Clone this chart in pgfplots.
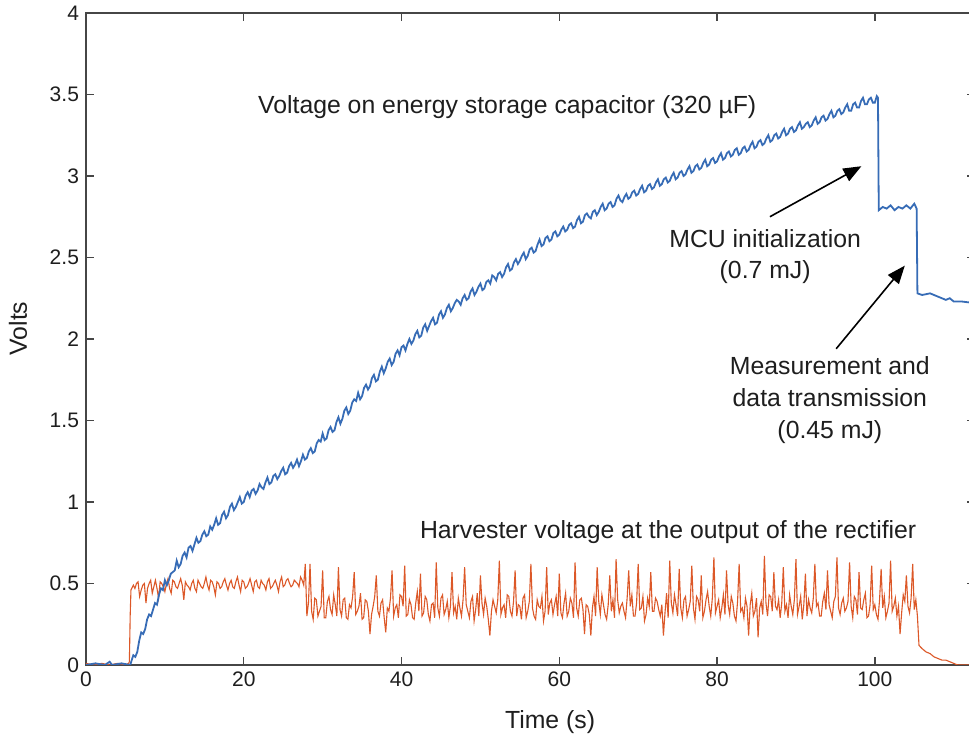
\documentclass[border=0pt]{standalone}
\usepackage{pgfplots}
\pgfplotsset{compat=1.18}
\usepackage{fontspec}
\setmainfont{Liberation Sans}
\usetikzlibrary{arrows.meta}
\definecolor{capblue}{RGB}{55,108,182}
\definecolor{harvorange}{RGB}{220,88,40}
\definecolor{axgray}{RGB}{70,70,70}
\definecolor{txt}{RGB}{30,30,30}

\begin{document}
\begin{tikzpicture}
% page = 969x742 px at 0.5pt per px, axis box SW corner at origin
\useasboundingbox (-43pt,-38.5pt) rectangle (441.5pt,332.5pt);
\begin{axis}[
  at={(0,0)}, anchor=south west,
  scale only axis, width=444.5pt, height=326pt,
  xmin=0, xmax=112.7, ymin=0, ymax=4,
  xtick={0,20,40,60,80,100},
  ytick={0,0.5,1,1.5,2,2.5,3,3.5,4},
  yticklabels={0,0.5,1,1.5,2,2.5,3,3.5,4},
  tick align=inside, major tick length=4pt,
  axis line style={axgray, line width=0.7pt},
  every tick/.style={axgray, line width=0.7pt},
  /pgf/number format/assume math mode=true,
  tick label style={font=\fontsize{10.5}{12}\selectfont, text=txt},
  label style={font=\fontsize{12.4}{14}\selectfont, text=txt},
  xlabel={Time (s)},
  xlabel style={at={(axis description cs:0.522,-0.0874)}, anchor=center},
  ylabel={Volts},
  ylabel style={at={(axis description cs:-0.0765,0.516)}, anchor=center},
  clip=true,
]
% harvester voltage
\addplot[harvorange, line width=0.55pt] coordinates {
(0,0.01) (1,0.00) (2,0.01) (3,0.00) (4,0.01) (5,0.00) (5.4,0.01) (5.5,0.02) (5.6,0.30) (5.7,0.46)
(6.0,0.49) (6.2,0.47) (6.4,0.50) (6.6,0.51) (6.8,0.42) (7.0,0.46) (7.2,0.49) (7.4,0.50) (7.6,0.38) (7.8,0.47)
(8.0,0.50) (8.2,0.52) (8.4,0.44) (8.6,0.48) (8.8,0.52) (9.0,0.47) (9.2,0.41) (9.4,0.51) (9.6,0.50) (9.8,0.48)
(10.0,0.45) (10.2,0.50) (10.4,0.53) (10.6,0.47) (10.8,0.44) (11.0,0.52) (11.2,0.51) (11.4,0.48) (11.6,0.47) (11.8,0.50)
(12.0,0.53) (12.2,0.49) (12.4,0.40) (12.6,0.51) (12.8,0.49) (13.0,0.48) (13.2,0.46) (13.4,0.50) (13.6,0.52) (13.8,0.47)
(14.0,0.45) (14.2,0.52) (14.4,0.50) (14.6,0.48) (14.8,0.47) (15.0,0.50) (15.2,0.54) (15.4,0.49) (15.6,0.46) (15.8,0.52)
(16.0,0.51) (16.2,0.48) (16.4,0.43) (16.6,0.51) (16.8,0.50) (17.0,0.47) (17.2,0.48) (17.4,0.51) (17.6,0.53) (17.8,0.49)
(18.0,0.46) (18.2,0.50) (18.4,0.52) (18.6,0.48) (18.8,0.47) (19.0,0.51) (19.2,0.54) (19.4,0.49) (19.6,0.45) (19.8,0.52)
(20.0,0.51) (20.2,0.47) (20.4,0.48) (20.6,0.50) (20.8,0.53) (21.0,0.49) (21.2,0.45) (21.4,0.51) (21.6,0.52) (21.8,0.48)
(22.0,0.47) (22.2,0.52) (22.4,0.50) (22.6,0.49) (22.8,0.46) (23.0,0.51) (23.2,0.53) (23.4,0.47) (23.6,0.48) (23.8,0.50)
(24.0,0.52) (24.2,0.49) (24.4,0.45) (24.6,0.51) (24.8,0.54) (25.0,0.48) (25.2,0.49) (25.4,0.52) (25.6,0.53) (25.8,0.50)
(26.0,0.48) (26.2,0.49) (26.4,0.52) (26.6,0.51) (26.8,0.50) (27.0,0.48) (27.2,0.54) (27.4,0.52) (27.6,0.49) (27.8,0.62)
(28.0,0.30) (28.2,0.38) (28.4,0.62) (28.6,0.33) (28.8,0.28) (29.0,0.41) (29.2,0.40) (29.4,0.30) (29.6,0.33) (29.8,0.36)
(30.0,0.58) (30.2,0.29) (30.4,0.29) (30.6,0.39) (30.8,0.42) (31.0,0.34) (31.2,0.31) (31.4,0.43) (31.6,0.37) (31.8,0.30)
(32.0,0.60) (32.2,0.34) (32.4,0.30) (32.6,0.40) (32.8,0.41) (33.0,0.29) (33.2,0.28) (33.4,0.37) (33.6,0.35) (33.8,0.42)
(34.0,0.57) (34.2,0.31) (34.4,0.33) (34.6,0.36) (34.8,0.44) (35.0,0.28) (35.2,0.29) (35.4,0.40) (35.6,0.39) (35.8,0.33)
(36.0,0.19) (36.2,0.31) (36.4,0.36) (36.6,0.42) (36.8,0.55) (37.0,0.33) (37.2,0.30) (37.4,0.38) (37.6,0.40) (37.8,0.29)
(38.0,0.20) (38.2,0.35) (38.4,0.33) (38.6,0.41) (38.8,0.58) (39.0,0.30) (39.2,0.35) (39.4,0.37) (39.6,0.29) (39.8,0.43)
(40.0,0.42) (40.2,0.36) (40.4,0.61) (40.6,0.30) (40.8,0.31) (41.0,0.40) (41.2,0.37) (41.4,0.29) (41.6,0.28) (41.8,0.38)
(42.0,0.45) (42.2,0.33) (42.4,0.56) (42.6,0.30) (42.8,0.32) (43.0,0.42) (43.2,0.40) (43.4,0.31) (43.6,0.27) (43.8,0.37)
(44.0,0.38) (44.2,0.29) (44.4,0.63) (44.6,0.35) (44.8,0.30) (45.0,0.41) (45.2,0.43) (45.4,0.31) (45.6,0.34) (45.8,0.39)
(46.0,0.29) (46.2,0.36) (46.4,0.57) (46.6,0.32) (46.8,0.36) (47.0,0.28) (47.2,0.41) (47.4,0.35) (47.6,0.30) (47.8,0.40)
(48.0,0.60) (48.2,0.37) (48.4,0.33) (48.6,0.29) (48.8,0.39) (49.0,0.42) (49.2,0.27) (49.4,0.34) (49.6,0.44) (49.8,0.30)
(50.0,0.55) (50.2,0.38) (50.4,0.31) (50.6,0.41) (50.8,0.36) (51.0,0.28) (51.2,0.18) (51.4,0.33) (51.6,0.40) (51.8,0.36)
(52.0,0.32) (52.2,0.40) (52.4,0.64) (52.6,0.31) (52.8,0.35) (53.0,0.37) (53.2,0.29) (53.4,0.43) (53.6,0.42) (53.8,0.33)
(54.0,0.30) (54.2,0.39) (54.4,0.58) (54.6,0.30) (54.8,0.37) (55.0,0.36) (55.2,0.28) (55.4,0.41) (55.6,0.43) (55.8,0.29)
(56.0,0.33) (56.2,0.39) (56.4,0.62) (56.6,0.35) (56.8,0.30) (57.0,0.28) (57.2,0.40) (57.4,0.36) (57.6,0.35) (57.8,0.42)
(58.0,0.27) (58.2,0.33) (58.4,0.60) (58.6,0.31) (58.8,0.38) (59.0,0.40) (59.2,0.31) (59.4,0.37) (59.6,0.42) (59.8,0.30)
(60.0,0.56) (60.2,0.32) (60.4,0.29) (60.6,0.38) (60.8,0.44) (61.0,0.30) (61.2,0.33) (61.4,0.41) (61.6,0.38) (61.8,0.29)
(62.0,0.63) (62.2,0.35) (62.4,0.30) (62.6,0.40) (62.8,0.41) (63.0,0.34) (63.2,0.19) (63.4,0.37) (63.6,0.36) (63.8,0.31)
(64.0,0.18) (64.2,0.35) (64.4,0.42) (64.6,0.30) (64.8,0.60) (65.0,0.39) (65.2,0.31) (65.4,0.43) (65.6,0.37) (65.8,0.31)
(66.0,0.28) (66.2,0.37) (66.4,0.55) (66.6,0.33) (66.8,0.40) (67.0,0.29) (67.2,0.65) (67.4,0.40) (67.6,0.32) (67.8,0.36)
(68.0,0.38) (68.2,0.33) (68.4,0.29) (68.6,0.41) (68.8,0.58) (69.0,0.36) (69.2,0.43) (69.4,0.30) (69.6,0.30) (69.8,0.38)
(70.0,0.62) (70.2,0.34) (70.4,0.35) (70.6,0.42) (70.8,0.27) (71.0,0.31) (71.2,0.41) (71.4,0.36) (71.6,0.57) (71.8,0.33)
(72.0,0.33) (72.2,0.41) (72.4,0.39) (72.6,0.34) (72.8,0.30) (73.0,0.37) (73.2,0.18) (73.4,0.32) (73.6,0.44) (73.8,0.29)
(74.0,0.64) (74.2,0.38) (74.4,0.32) (74.6,0.43) (74.8,0.37) (75.0,0.30) (75.2,0.59) (75.4,0.35) (75.6,0.29) (75.8,0.40)
(76.0,0.42) (76.2,0.30) (76.4,0.34) (76.6,0.39) (76.8,0.61) (77.0,0.35) (77.2,0.28) (77.4,0.42) (77.6,0.40) (77.8,0.33)
(78.0,0.55) (78.2,0.29) (78.4,0.33) (78.6,0.40) (78.8,0.45) (79.0,0.36) (79.2,0.30) (79.4,0.41) (79.6,0.66) (79.8,0.32)
(80.0,0.36) (80.2,0.40) (80.4,0.29) (80.6,0.35) (80.8,0.43) (81.0,0.31) (81.2,0.58) (81.4,0.37) (81.6,0.31) (81.8,0.42)
(82.0,0.38) (82.2,0.30) (82.4,0.27) (82.6,0.39) (82.8,0.62) (83.0,0.33) (83.2,0.35) (83.4,0.29) (83.6,0.41) (83.8,0.36)
(84.0,0.18) (84.2,0.37) (84.4,0.44) (84.6,0.30) (84.8,0.33) (85.0,0.41) (85.2,0.17) (85.4,0.35) (85.6,0.39) (85.8,0.31)
(86.0,0.67) (86.2,0.38) (86.4,0.30) (86.6,0.43) (86.8,0.42) (87.0,0.33) (87.2,0.57) (87.4,0.36) (87.6,0.34) (87.8,0.40)
(88.0,0.29) (88.2,0.38) (88.4,0.60) (88.6,0.33) (88.8,0.37) (89.0,0.29) (89.2,0.43) (89.4,0.36) (89.6,0.31) (89.8,0.40)
(90.0,0.65) (90.2,0.31) (90.4,0.36) (90.6,0.42) (90.8,0.28) (91.0,0.37) (91.2,0.56) (91.4,0.30) (91.6,0.40) (91.8,0.35)
(92.0,0.32) (92.2,0.41) (92.4,0.62) (92.6,0.36) (92.8,0.38) (93.0,0.30) (93.2,0.30) (93.4,0.39) (93.6,0.44) (93.8,0.34)
(94.0,0.58) (94.2,0.37) (94.4,0.33) (94.6,0.29) (94.8,0.39) (95.0,0.42) (95.2,0.66) (95.4,0.35) (95.6,0.31) (95.8,0.38)
(96.0,0.41) (96.2,0.33) (96.4,0.35) (96.6,0.39) (96.8,0.63) (97.0,0.36) (97.2,0.29) (97.4,0.42) (97.6,0.40) (97.8,0.31)
(98.0,0.57) (98.2,0.35) (98.4,0.34) (98.6,0.40) (98.8,0.44) (99.0,0.29) (99.2,0.30) (99.4,0.37) (99.6,0.61) (99.8,0.34)
(100.0,0.37) (100.2,0.31) (100.4,0.28) (100.6,0.40) (100.8,0.59) (101.0,0.35) (101.2,0.42) (101.4,0.29) (101.6,0.33) (101.8,0.38)
(102.0,0.64) (102.2,0.33) (102.4,0.36) (102.6,0.41) (102.8,0.30) (103.0,0.36) (103.2,0.19) (103.4,0.32) (103.6,0.43) (103.8,0.39)
(104.0,0.55) (104.2,0.36) (104.4,0.32) (104.6,0.41) (104.8,0.62) (105.0,0.34) (105.2,0.40) (105.4,0.30) (105.6,0.12)
(106.0,0.10) (106.5,0.08) (107.0,0.07) (107.5,0.05) (108.0,0.04) (108.5,0.03) (109.0,0.03) (109.5,0.02) (110.0,0.01) (110.5,0.00) (112.7,0.00)
};
% storage capacitor voltage
\addplot[capblue, line width=0.9pt] coordinates {
(0,0.00) (1.2,0.01) (2.4,0.00) (3.0,0.02) (3.3,0.00) (4.5,0.01) (5.6,0.00)
(6.0,0.06) (6.25,0.05) (6.5,0.08) (6.75,0.15) (7.0,0.20) (7.25,0.19) (7.5,0.22) (7.75,0.28) (8.0,0.31) (8.25,0.30)
(8.5,0.34) (8.75,0.38) (9.0,0.37) (9.25,0.43) (9.5,0.47) (9.75,0.46) (10.0,0.52) (10.25,0.49) (10.5,0.52) (10.75,0.56)
(11.0,0.57) (11.25,0.58) (11.5,0.64) (11.75,0.60) (12.0,0.62) (12.25,0.67) (12.5,0.69) (12.75,0.66) (13.0,0.72) (13.25,0.73)
(13.5,0.70) (13.75,0.74) (14.0,0.78) (14.25,0.75) (14.5,0.76) (14.75,0.80) (15.0,0.82) (15.25,0.79) (15.5,0.80) (15.75,0.85)
(16.0,0.83) (16.25,0.86) (16.5,0.90) (16.75,0.86) (17.0,0.87) (17.25,0.92) (17.5,0.94) (17.75,0.90) (18.0,0.92) (18.25,0.97)
(18.5,0.99) (18.75,0.95) (19.0,0.97) (19.25,1.00) (19.5,1.03) (19.75,0.99) (20.0,1.00) (20.25,1.04) (20.5,1.06) (20.75,1.03)
(21.0,1.07) (21.25,1.08) (21.5,1.05) (21.75,1.07) (22.0,1.11) (22.25,1.09) (22.5,1.08) (22.75,1.12) (23.0,1.15) (23.25,1.11)
(23.5,1.12) (23.75,1.16) (24.0,1.17) (24.25,1.14) (24.5,1.16) (24.75,1.19) (25.0,1.21) (25.25,1.17) (25.5,1.18) (25.75,1.22)
(26.0,1.24) (26.25,1.21) (26.5,1.23) (26.75,1.26) (27.0,1.22) (27.25,1.25) (27.5,1.29) (27.75,1.26) (28.0,1.27) (28.25,1.31)
(28.5,1.33) (28.75,1.30) (29.0,1.31) (29.25,1.36) (29.5,1.38) (29.75,1.37) (30.0,1.42) (30.25,1.38) (30.5,1.39) (30.75,1.44)
(31.0,1.46) (31.25,1.43) (31.5,1.44) (31.75,1.49) (32.0,1.52) (32.25,1.48) (32.5,1.51) (32.75,1.56) (33.0,1.58) (33.25,1.54)
(33.5,1.56) (33.75,1.61) (34.0,1.63) (34.25,1.62) (34.5,1.67) (34.75,1.63) (35.0,1.65) (35.25,1.70) (35.5,1.72) (35.75,1.69)
(36.0,1.71) (36.25,1.76) (36.5,1.78) (36.75,1.74) (37.0,1.75) (37.25,1.80) (37.5,1.83) (37.75,1.79) (38.0,1.82) (38.25,1.86)
(38.5,1.88) (38.75,1.84) (39.0,1.86) (39.25,1.91) (39.5,1.93) (39.75,1.90) (40.0,1.95) (40.25,1.96) (40.5,1.93) (40.75,1.97)
(41.0,2.00) (41.25,1.97) (41.5,1.99) (41.75,2.03) (42.0,2.05) (42.25,2.01) (42.5,2.02) (42.75,2.07) (43.0,2.09) (43.25,2.05)
(43.5,2.08) (43.75,2.11) (44.0,2.13) (44.25,2.09) (44.5,2.10) (44.75,2.15) (45.0,2.17) (45.25,2.13) (45.5,2.15) (45.75,2.19)
(46.0,2.21) (46.25,2.17) (46.5,2.19) (46.75,2.22) (47.0,2.24) (47.25,2.23) (47.5,2.21) (47.75,2.25) (48.0,2.27) (48.25,2.24)
(48.5,2.25) (48.75,2.29) (49.0,2.31) (49.25,2.27) (49.5,2.29) (49.75,2.32) (50.0,2.34) (50.25,2.30) (50.5,2.31) (50.75,2.35)
(51.0,2.36) (51.25,2.34) (51.5,2.39) (51.75,2.38) (52.0,2.36) (52.25,2.40) (52.5,2.41) (52.75,2.38) (53.0,2.40) (53.25,2.44)
(53.5,2.46) (53.75,2.42) (54.0,2.43) (54.25,2.47) (54.5,2.49) (54.75,2.46) (55.0,2.48) (55.25,2.51) (55.5,2.53) (55.75,2.49)
(56.0,2.51) (56.25,2.55) (56.5,2.56) (56.75,2.53) (57.0,2.54) (57.25,2.58) (57.5,2.61) (57.75,2.57) (58.0,2.58) (58.25,2.62)
(58.5,2.63) (58.75,2.60) (59.0,2.61) (59.25,2.65) (59.5,2.66) (59.75,2.63) (60.0,2.64) (60.25,2.67) (60.5,2.69) (60.75,2.66)
(61.0,2.67) (61.25,2.70) (61.5,2.71) (61.75,2.68) (62.0,2.69) (62.25,2.73) (62.5,2.75) (62.75,2.71) (63.0,2.72) (63.25,2.76)
(63.5,2.77) (63.75,2.75) (64.0,2.74) (64.25,2.78) (64.5,2.79) (64.75,2.76) (65.0,2.78) (65.25,2.81) (65.5,2.83) (65.75,2.79)
(66.0,2.80) (66.25,2.83) (66.5,2.84) (66.75,2.81) (67.0,2.82) (67.25,2.86) (67.5,2.88) (67.75,2.85) (68.0,2.84) (68.25,2.87)
(68.5,2.89) (68.75,2.86) (69.0,2.87) (69.25,2.90) (69.5,2.91) (69.75,2.88) (70.0,2.89) (70.25,2.92) (70.5,2.94) (70.75,2.90)
(71.0,2.91) (71.25,2.94) (71.5,2.95) (71.75,2.92) (72.0,2.93) (72.25,2.96) (72.5,2.98) (72.75,2.94) (73.0,2.95) (73.25,2.98)
(73.5,2.99) (73.75,2.96) (74.0,2.97) (74.25,3.00) (74.5,3.02) (74.75,2.98) (75.0,2.99) (75.25,3.02) (75.5,3.03) (75.75,3.00)
(76.0,3.01) (76.25,3.04) (76.5,3.06) (76.75,3.02) (77.0,3.03) (77.25,3.06) (77.5,3.07) (77.75,3.04) (78.0,3.05) (78.25,3.08)
(78.5,3.10) (78.75,3.06) (79.0,3.07) (79.25,3.10) (79.5,3.11) (79.75,3.08) (80.0,3.09) (80.25,3.12) (80.5,3.14) (80.75,3.10)
(81.0,3.11) (81.25,3.14) (81.5,3.15) (81.75,3.12) (82.0,3.13) (82.25,3.16) (82.5,3.17) (82.75,3.13) (83.0,3.14) (83.25,3.17)
(83.5,3.18) (83.75,3.15) (84.0,3.16) (84.25,3.19) (84.5,3.21) (84.75,3.17) (85.0,3.18) (85.25,3.21) (85.5,3.22) (85.75,3.19)
(86.0,3.20) (86.25,3.23) (86.5,3.25) (86.75,3.21) (87.0,3.22) (87.25,3.25) (87.5,3.26) (87.75,3.23) (88.0,3.24) (88.25,3.27)
(88.5,3.29) (88.75,3.25) (89.0,3.26) (89.25,3.29) (89.5,3.30) (89.75,3.27) (90.0,3.28) (90.25,3.31) (90.5,3.33) (90.75,3.29)
(91.0,3.30) (91.25,3.32) (91.5,3.33) (91.75,3.30) (92.0,3.31) (92.25,3.34) (92.5,3.36) (92.75,3.32) (93.0,3.33) (93.25,3.36)
(93.5,3.37) (93.75,3.34) (94.0,3.35) (94.25,3.38) (94.5,3.40) (94.75,3.36) (95.0,3.37) (95.25,3.40) (95.5,3.41) (95.75,3.38)
(96.0,3.39) (96.25,3.42) (96.5,3.44) (96.75,3.40) (97.0,3.40) (97.25,3.44) (97.5,3.45) (97.75,3.42) (98.0,3.42) (98.25,3.46)
(98.5,3.48) (98.75,3.44) (99.0,3.44) (99.25,3.47) (99.5,3.48) (99.75,3.45) (100.0,3.45) (100.25,3.49) (100.4,3.48)
(100.5,2.79) (101.0,2.81) (101.5,2.80) (102.0,2.82) (102.5,2.79) (103.0,2.81) (103.5,2.80) (104.0,2.82) (104.5,2.80) (105.0,2.83) (105.3,2.80)
(105.4,2.28) (106.0,2.27) (107.0,2.28) (108.0,2.26) (109.0,2.24) (109.5,2.25) (110.0,2.23) (111.0,2.23) (112.7,2.22)
};
% annotations
\node[txt, font=\fontsize{12.4}{15.5}\selectfont] at (axis cs:53.4,3.42) {Voltage on energy storage capacitor (320 µF)};
\node[txt, font=\fontsize{12.4}{15.5}\selectfont, align=center] at (axis cs:86.1,2.505) {MCU initialization\\(0.7 mJ)};
\node[txt, font=\fontsize{12.4}{16}\selectfont, align=center] at (axis cs:94.3,1.626) {Measurement and\\data transmission\\(0.45 mJ)};
\node[txt, font=\fontsize{12.4}{15.5}\selectfont] at (axis cs:73.8,0.816) {Harvester voltage at the output of the rectifier};
\draw[black, line width=0.8pt, -{Triangle[length=9pt,width=7pt]}] (axis cs:86.7,2.75) -- (axis cs:98.3,3.06);
\draw[black, line width=0.8pt, -{Triangle[length=9pt,width=7pt]}] (axis cs:95.1,1.94) -- (axis cs:103.8,2.45);
\end{axis}
\end{tikzpicture}
\end{document}
